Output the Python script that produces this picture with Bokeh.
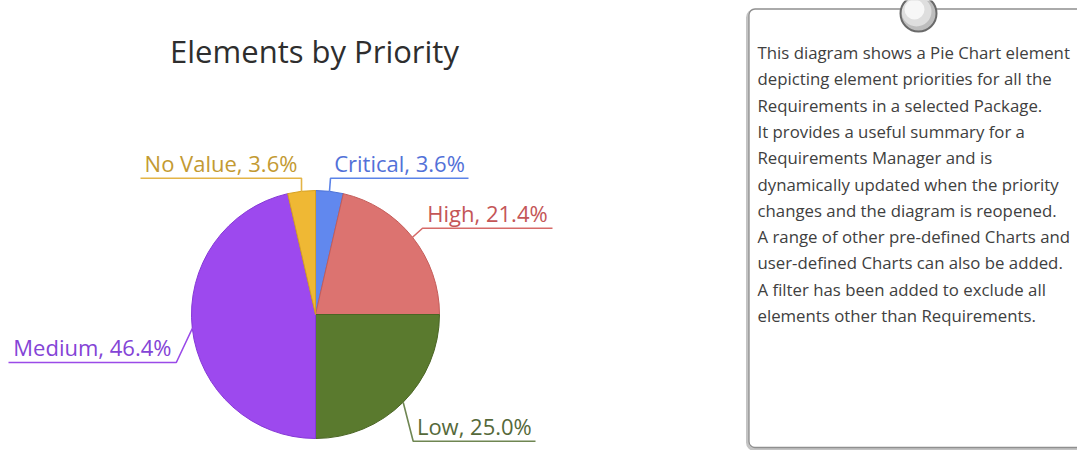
import numpy as np
from bokeh.plotting import figure
from bokeh.models import Range1d
from bokeh.embed import file_html
from bokeh.resources import INLINE
from bokeh.core.properties import value

# ---------------- data ----------------
categories = ["Critical", "High", "Low", "Medium", "No Value"]
percentages = [3.6, 21.4, 25.0, 46.4, 3.6]
chart_title = "Elements by Priority"
note_lines = [
    "This diagram shows a Pie Chart element",
    "depicting element priorities for all the",
    "Requirements in a selected Package.",
    "It provides a useful summary for a",
    "Requirements Manager and is",
    "dynamically updated when the priority",
    "changes and the diagram is reopened.",
    "A range of other pre-defined Charts and",
    "user-defined Charts can also be added.",
    "A filter has been added to exclude all",
    "elements other than Requirements.",
]

# ---------------- styles / layout ----------------
fill_colors = ["#6188ee", "#dc7370", "#5a7a2e", "#9d49ee", "#efb834"]
edge_colors = ["#4d72d6", "#c45c59", "#4a6524", "#8538d6", "#d6a020"]
leader_colors = ["#5b83e8", "#d66a68", "#6f8652", "#9a4ae8", "#e3b446"]
label_colors = ["#5271d8", "#c45657", "#55693a", "#8444d6", "#c39a32"]
# elbow offsets from the slice anchor (screen px) and outer end of the underline
elbow_offsets = [(1, -13), (10, -9), (10, 39), (-16, 34), (0, -13)]
line_outer_x = [468, 552, 535, 8, 140]

FONT = "Open Sans"
W, H = 1077, 450
OX, OY = 0, 450  # screen -> data transform


def sx(x):
    return np.asarray(x, dtype=float) - OX


def sy(y):
    return OY - np.asarray(y, dtype=float)


p = figure(width=W, height=H, x_range=Range1d(0, W), y_range=Range1d(0, H),
           output_backend="svg", toolbar_location=None,
           x_axis_type=None, y_axis_type=None, min_border=0)
p.grid.visible = False
p.outline_line_color = None
p.background_fill_color = "white"
p.border_fill_color = "white"

# ---------------- title ----------------
p.text(x=[float(sx(314))], y=[float(sy(50))], text=[chart_title],
       text_font=value(FONT), text_font_size="31px", text_color="#2e2e2e",
       text_align="center", text_baseline="middle")

# ---------------- pie ----------------
cx, cy, R = 315, 314, 124
vals = np.array(percentages, dtype=float)
frac = vals / vals.sum()
cum_end = np.cumsum(frac)
cum_start = cum_end - frac
start_ang = np.pi / 2 - 2 * np.pi * cum_end
end_ang = np.pi / 2 - 2 * np.pi * cum_start
p.wedge(x=[float(sx(cx))] * len(vals), y=[float(sy(cy))] * len(vals), radius=R,
        start_angle=list(start_ang), end_angle=list(end_ang),
        fill_color=fill_colors, line_color=edge_colors, line_width=1)

# ---------------- leader lines and labels ----------------
mid = 2 * np.pi * (cum_start + cum_end) / 2  # clockwise from 12 o'clock
for i, cat in enumerate(categories):
    ax = cx + R * np.sin(mid[i])
    ay = cy - R * np.cos(mid[i])
    ex = ax + elbow_offsets[i][0]
    ey = ay + elbow_offsets[i][1]
    ox = line_outer_x[i]
    p.line(x=list(sx([ax, ex, ox])), y=list(sy([ay, ey, ey])),
           line_color=leader_colors[i], line_width=1.6)
    label = f"{cat}, {percentages[i]:.1f}%"
    p.text(x=[float(sx((ex + ox) / 2))], y=[float(sy(ey - 15))], text=[label],
           text_font=value(FONT), text_font_size="22px", text_color=label_colors[i],
           text_align="center", text_baseline="middle")

# ---------------- note box ----------------
p.quad(left=[float(sx(747))], right=[float(sx(1100))], top=[float(sy(10))], bottom=[float(sy(449))],
       fill_color=None, line_color="#c4c4c4", line_width=3, border_radius=7)
p.quad(left=[float(sx(748.5))], right=[float(sx(1100))], top=[float(sy(8.5))], bottom=[float(sy(447))],
       fill_color="white", line_color="#8f8f8f", line_width=1.3, border_radius=6)

# pin
pin_x, pin_y = 918, 13
p.circle(x=[float(sx(pin_x))], y=[float(sy(pin_y))], radius=18,
         fill_color="#bdbdbd", line_color=None)
p.circle(x=[float(sx(pin_x - 2))], y=[float(sy(pin_y - 2))], radius=15,
         fill_color="#dedede", line_color=None)
p.circle(x=[float(sx(pin_x - 4))], y=[float(sy(pin_y - 4))], radius=10,
         fill_color="#f7f7f7", line_color=None)
p.circle(x=[float(sx(pin_x))], y=[float(sy(pin_y))], radius=18,
         fill_color=None, line_color="#6a6a6a", line_width=2)

# note text
ny = 52 + 26.3 * np.arange(len(note_lines))
p.text(x=[float(sx(757))] * len(note_lines), y=list(sy(ny)), text=note_lines,
       text_font=value(FONT), text_font_size="16.8px", text_color="#404040",
       text_align="left", text_baseline="middle")

open("out.html", "w").write(file_html(p, INLINE))
